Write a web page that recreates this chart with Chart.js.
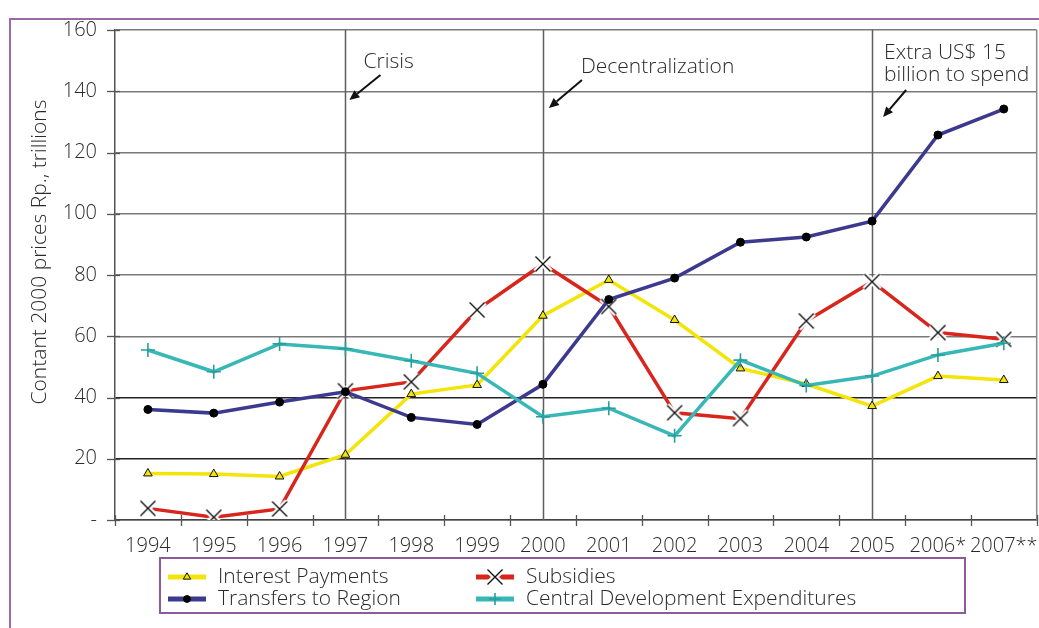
<!DOCTYPE html>
<html><head><meta charset="utf-8">
<script src="https://cdn.jsdelivr.net/npm/chart.js@4.4.0/dist/chart.umd.min.js"></script>
<style>
html,body{margin:0;padding:0;background:#fff;overflow:hidden}
#wrap{position:relative;width:1039px;height:628px;overflow:hidden}
canvas{display:block}
</style></head><body>
<div id="wrap"><canvas id="c" width="1046" height="628"></canvas></div>
<script>
// ---- data ----
const years = ['1994','1995','1996','1997','1998','1999','2000','2001','2002','2003','2004','2005','2006*','2007**'];
const interestPayments   = [15.2, 15.0, 14.2, 21.3, 41.1, 44.1, 66.7, 78.4, 65.3, 49.5, 44.4, 37.2, 47.0, 45.7];
const subsidies          = [3.8, 0.9, 3.6, 42.2, 45.1, 68.6, 83.6, 69.7, 35.0, 33.1, 65.0, 77.8, 61.2, 59.0];
const transfersToRegion  = [36.1, 34.9, 38.5, 41.9, 33.5, 31.2, 44.3, 72.0, 79.0, 90.7, 92.4, 97.6, 125.7, 134.2];
const centralDevelopment = [55.5, 48.4, 57.5, 55.9, 52.0, 47.9, 33.7, 36.5, 27.5, 52.2, 43.9, 47.0, 53.9, 57.7];
const yTickValues = [0, 20, 40, 60, 80, 100, 120, 140, 160];
const seriesNames = ['Interest Payments', 'Subsidies', 'Transfers to Region', 'Central Development Expenditures'];
const yTitle = 'Contant 2000 prices Rp., trillions';
const eventYears = ['1997', '2000', '2005'];
const eventLabels = [['Crisis'], ['Decentralization'], ['Extra US$ 15', 'billion to spend']];

const FONT = "'Open Sans', 'DejaVu Sans', sans-serif";
const TXT = '#2a2a2a';

// X marker with a white halo (gaps in the line around it)
const xMarker = (() => {
  const c = document.createElement('canvas');
  c.width = 24; c.height = 24;
  const g = c.getContext('2d');
  const d = 7.5;
  g.lineCap = 'butt';
  g.strokeStyle = '#fff'; g.lineWidth = 6;
  g.beginPath(); g.moveTo(12 - d, 12 - d); g.lineTo(12 + d, 12 + d); g.moveTo(12 + d, 12 - d); g.lineTo(12 - d, 12 + d); g.stroke();
  g.strokeStyle = '#111'; g.lineWidth = 1.4;
  g.beginPath(); g.moveTo(12 - d, 12 - d); g.lineTo(12 + d, 12 + d); g.moveTo(12 + d, 12 - d); g.lineTo(12 - d, 12 + d); g.stroke();
  return c;
})();

const framePlugin = {
  id: 'frame',
  beforeDraw(chart) {
    const ctx = chart.ctx;
    ctx.save();
    ctx.fillStyle = '#fff';
    ctx.fillRect(0, 0, chart.width, chart.height);
    ctx.strokeStyle = '#9a6aa6';
    ctx.lineWidth = 2;
    ctx.strokeRect(10, 19, chart.width + 20, chart.height + 20);
    ctx.restore();
  },
  beforeDatasetsDraw(chart) {
    const ctx = chart.ctx, x = chart.scales.x, y = chart.scales.y, a = chart.chartArea;
    ctx.save();
    ctx.strokeStyle = '#5e5e5e';
    ctx.lineWidth = 1.5;
    eventYears.forEach(ev => {
      const px = Math.round(x.getPixelForValue(years.indexOf(ev))) + 0.5;
      ctx.beginPath(); ctx.moveTo(px, a.top); ctx.lineTo(px, a.bottom); ctx.stroke();
    });
    ctx.strokeStyle = '#8a8a8a';
    ctx.beginPath(); ctx.moveTo(a.right, a.top); ctx.lineTo(a.right, a.bottom); ctx.stroke();
    ctx.strokeStyle = '#555';
    ctx.lineWidth = 1.3;
    yTickValues.forEach(v => {
      const py = Math.round(y.getPixelForValue(v)) + 0.5;
      ctx.beginPath(); ctx.moveTo(a.left - 8, py); ctx.lineTo(a.left + 5, py); ctx.stroke();
    });
    const step = x.getPixelForValue(1) - x.getPixelForValue(0);
    for (let i = 0; i <= years.length; i++) {
      const px = Math.round(x.getPixelForValue(i) - step / 2) + 0.5;
      ctx.beginPath(); ctx.moveTo(px, a.bottom - 5); ctx.lineTo(px, a.bottom + 6); ctx.stroke();
    }
    ctx.restore();
  },
  afterDraw(chart) {
    const ctx = chart.ctx, x = chart.scales.x;
    ctx.save();
    ctx.fillStyle = TXT;
    ctx.font = "300 21px " + FONT;
    ctx.textAlign = 'center'; ctx.textBaseline = 'middle';
    ctx.translate(40, 252); ctx.rotate(-Math.PI / 2);
    ctx.fillText(yTitle, 0, 0);
    ctx.restore();

    const arrow = (x1, y1, x2, y2) => {
      ctx.strokeStyle = '#111'; ctx.fillStyle = '#111'; ctx.lineWidth = 2;
      const ang = Math.atan2(y2 - y1, x2 - x1);
      const hl = 10, hw = 4.5;
      const bx = x2 - hl * Math.cos(ang), by = y2 - hl * Math.sin(ang);
      ctx.beginPath(); ctx.moveTo(x1, y1); ctx.lineTo(bx, by); ctx.stroke();
      ctx.beginPath();
      ctx.moveTo(x2, y2);
      ctx.lineTo(bx + hw * Math.sin(ang), by - hw * Math.cos(ang));
      ctx.lineTo(bx - hw * Math.sin(ang), by + hw * Math.cos(ang));
      ctx.closePath(); ctx.fill();
    };
    const layout = [
      {tx: 18, ty: [62], ax1: 35, ay1: 75, ax2: 4, ay2: 100},
      {tx: 38, ty: [67], ax1: 39, ay1: 80, ax2: 6, ay2: 108},
      {tx: 12, ty: [53, 75], ax1: 34, ay1: 90, ax2: 11, ay2: 117}
    ];
    ctx.save();
    ctx.font = "300 21px " + FONT;
    ctx.textAlign = 'left'; ctx.textBaseline = 'middle';
    eventYears.forEach((ev, i) => {
      const px = x.getPixelForValue(years.indexOf(ev));
      const L = layout[i];
      eventLabels[i].forEach((t, j) => { ctx.fillStyle = TXT; ctx.fillText(t, px + L.tx, L.ty[j]); });
      arrow(px + L.ax1, L.ay1, px + L.ax2, L.ay2);
    });
    ctx.restore();

    // legend
    ctx.save();
    ctx.strokeStyle = '#8e5a9c'; ctx.lineWidth = 2;
    ctx.strokeRect(160, 558, 805, 55);
    const cols = [168, 476], rows = [577, 599];
    chart.data.datasets.forEach((ds, i) => {
      const lx = cols[i % 2], ly = rows[Math.floor(i / 2)];
      ctx.strokeStyle = ds.borderColor; ctx.lineWidth = 5;
      ctx.beginPath(); ctx.moveTo(lx, ly); ctx.lineTo(lx + 38, ly); ctx.stroke();
      ctx.save();
      ctx.fillStyle = ds.pointBackgroundColor; ctx.strokeStyle = ds.pointBorderColor; ctx.lineWidth = ds.pointBorderWidth;
      Chart.helpers.drawPoint(ctx, {pointStyle: ds.pointStyle, radius: ds.pointRadius * 0.85, borderWidth: ds.pointBorderWidth, rotation: 0}, lx + 19, ly);
      ctx.restore();
      ctx.fillStyle = TXT; ctx.font = "300 21px " + FONT;
      ctx.textAlign = 'left'; ctx.textBaseline = 'middle';
      ctx.fillText(ds.label, lx + 50, ly);
    });
    ctx.restore();
  }
};

const mk = (label, data, color, style, radius, bg, bc, bw, order) => ({
  label, data, borderColor: color, borderWidth: 3.5, tension: 0, fill: false,
  pointStyle: style, pointRadius: radius, pointHoverRadius: radius,
  pointBackgroundColor: bg, pointBorderColor: bc, pointBorderWidth: bw, order
});

new Chart(document.getElementById('c'), {
  type: 'line',
  data: {
    labels: years,
    datasets: [
      mk(seriesNames[0], interestPayments, '#f3e40a', 'triangle', 5, '#f3e40a', '#111', 1, 4),
      mk(seriesNames[1], subsidies, '#d8261d', xMarker, 8, '#111', '#111', 1.3, 3),
      mk(seriesNames[2], transfersToRegion, '#3c3a8e', 'circle', 4, '#000', '#000', 1, 2),
      mk(seriesNames[3], centralDevelopment, '#38b7b7', 'cross', 7, '#2a9d9d', '#2a9d9d', 1.6, 1)
    ]
  },
  options: {
    responsive: false, animation: false, devicePixelRatio: 1,
    layout: {padding: {left: 0, right: 0, top: 30, bottom: 0}},
    plugins: {legend: {display: false}, tooltip: {enabled: false}},
    scales: {
      x: {
        type: 'category', offset: true,
        grid: {display: true, drawOnChartArea: false, drawTicks: false, offset: true},
        border: {display: true, color: '#444', width: 1.5},
        ticks: {autoSkip: false, maxRotation: 0, minRotation: 0, padding: 14, color: TXT,
                font: {family: FONT, size: 20, weight: 300}},
        afterFit: s => { s.height = 108; s.paddingLeft = 0; s.paddingRight = 0; }
      },
      y: {
        min: 0, max: 160,
        afterBuildTicks: s => { s.ticks = yTickValues.map(v => ({value: v})); },
        grid: {drawTicks: false, lineWidth: 1.5,
               color: c => (c.tick && (c.tick.value === 20 || c.tick.value === 40)) ? '#222' : '#7a7a7a'},
        border: {display: true, color: '#555', width: 1.5},
        ticks: {padding: 18, color: TXT, font: {family: FONT, size: 20, weight: 300},
                callback: v => v === 0 ? '-' : String(v)},
        afterFit: s => { s.width = 115; s.paddingTop = 0; s.paddingBottom = 0; }
      }
    }
  },
  plugins: [framePlugin]
});
</script>
</body></html>
